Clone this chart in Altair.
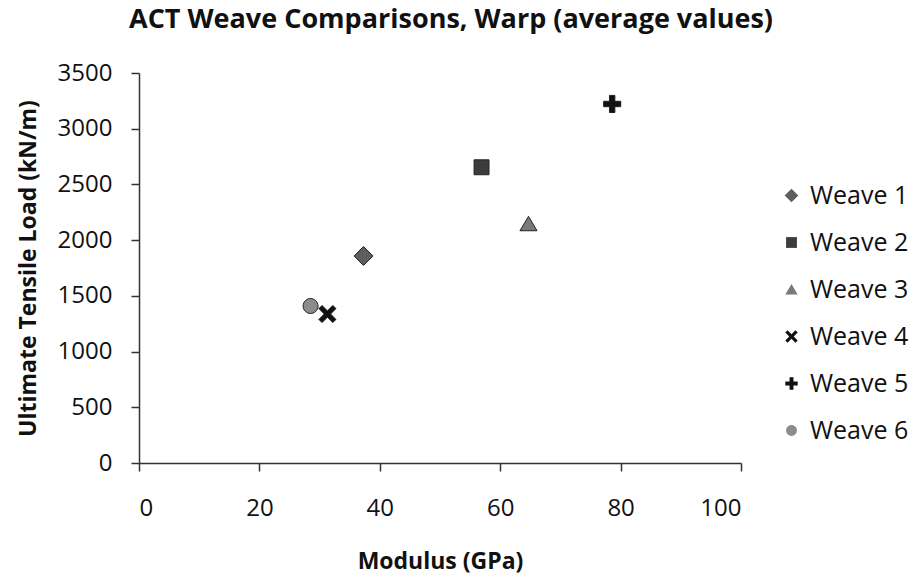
import altair as alt
import pandas as pd

weaves = ["Weave 1", "Weave 2", "Weave 3", "Weave 4", "Weave 5", "Weave 6"]
modulus = [37.3, 56.9, 64.7, 31.3, 78.6, 28.5]
load = [1858, 2654, 2145, 1337, 3222, 1409]

shapes = [
    "M0,-1.05L1.05,0L0,1.05L-1.05,0Z",
    "M-0.83,-0.83L0.83,-0.83L0.83,0.83L-0.83,0.83Z",
    "M0,-0.85L0.95,0.75L-0.95,0.75Z",
    "M-0.95,-0.6L-0.6,-0.95L0,-0.35L0.6,-0.95L0.95,-0.6L0.35,0L0.95,0.6L0.6,0.95L0,0.35L-0.6,0.95L-0.95,0.6L-0.35,0Z",
    "M-0.3,-0.95L0.3,-0.95L0.3,-0.3L0.95,-0.3L0.95,0.3L0.3,0.3L0.3,0.95L-0.3,0.95L-0.3,0.3L-0.95,0.3L-0.95,-0.3L-0.3,-0.3Z",
    "M0.83,0A0.83,0.83,0,1,1,-0.83,0A0.83,0.83,0,1,1,0.83,0Z",
]
colors = ["#5e5e5e", "#3c3c3c", "#7a7a7a", "#111111", "#111111", "#8c8c8c"]

df = pd.DataFrame({"Weave": weaves, "Modulus": modulus, "Load": load})

FONT = "Open Sans"

legend = alt.Legend(
    title=None,
    orient="none",
    legendX=640,
    legendY=110,
    symbolSize=170,
    labelFontSize=25,
    labelFont=FONT,
    labelColor="#111111",
    rowPadding=21,
    labelOffset=6,
    symbolStrokeWidth=0,
)

chart = (
    alt.Chart(df)
    .mark_point(filled=True, opacity=1, size=324, stroke="#222222", strokeWidth=1)
    .encode(
        x=alt.X(
            "Modulus:Q",
            scale=alt.Scale(domain=[0, 100], nice=False),
            axis=alt.Axis(
                values=[0, 20, 40, 60, 80, 100],
                format="d",
                title="Modulus (GPa)",
                grid=False,
                tickSize=8,
                labelPadding=25,
                titleY=105,
                titleBaseline="alphabetic",
            ),
        ),
        y=alt.Y(
            "Load:Q",
            scale=alt.Scale(domain=[0, 3500], nice=False),
            axis=alt.Axis(
                values=[0, 500, 1000, 1500, 2000, 2500, 3000, 3500],
                format="d",
                title="Ultimate Tensile Load (kN/m)",
                grid=False,
                tickSize=8,
                labelPadding=19,
                titleX=-111,
                titleY=195,
                titleBaseline="middle",
            ),
        ),
        shape=alt.Shape("Weave:N", scale=alt.Scale(domain=weaves, range=shapes), legend=legend),
        color=alt.Color("Weave:N", scale=alt.Scale(domain=weaves, range=colors), legend=legend),
    )
    .properties(
        width=602,
        height=390,
        autosize=alt.AutoSizeParams(type="none"),
        padding={"left": 139, "top": 73, "right": 181, "bottom": 115},
        background="white",
        title=alt.TitleParams(
            "ACT Weave Comparisons, Warp (average values)",
            anchor="start",
            frame="group",
            font=FONT,
            fontSize=27,
            fontWeight="bold",
            color="#111111",
            dx=-10,
            offset=40,
            dy=34,
            baseline="alphabetic",
        ),
    )
    .configure_view(stroke=None)
    .configure_axis(
        domainColor="#333333",
        domainWidth=1.5,
        tickColor="#333333",
        tickWidth=1.5,
        labelFont=FONT,
        labelFontSize=24,
        labelColor="#111111",
        titleFont=FONT,
        titleFontSize=23,
        titleFontWeight="bold",
        titleColor="#111111",
    )
)

chart.save("out.html", embed_options={"renderer": "svg", "actions": False})
